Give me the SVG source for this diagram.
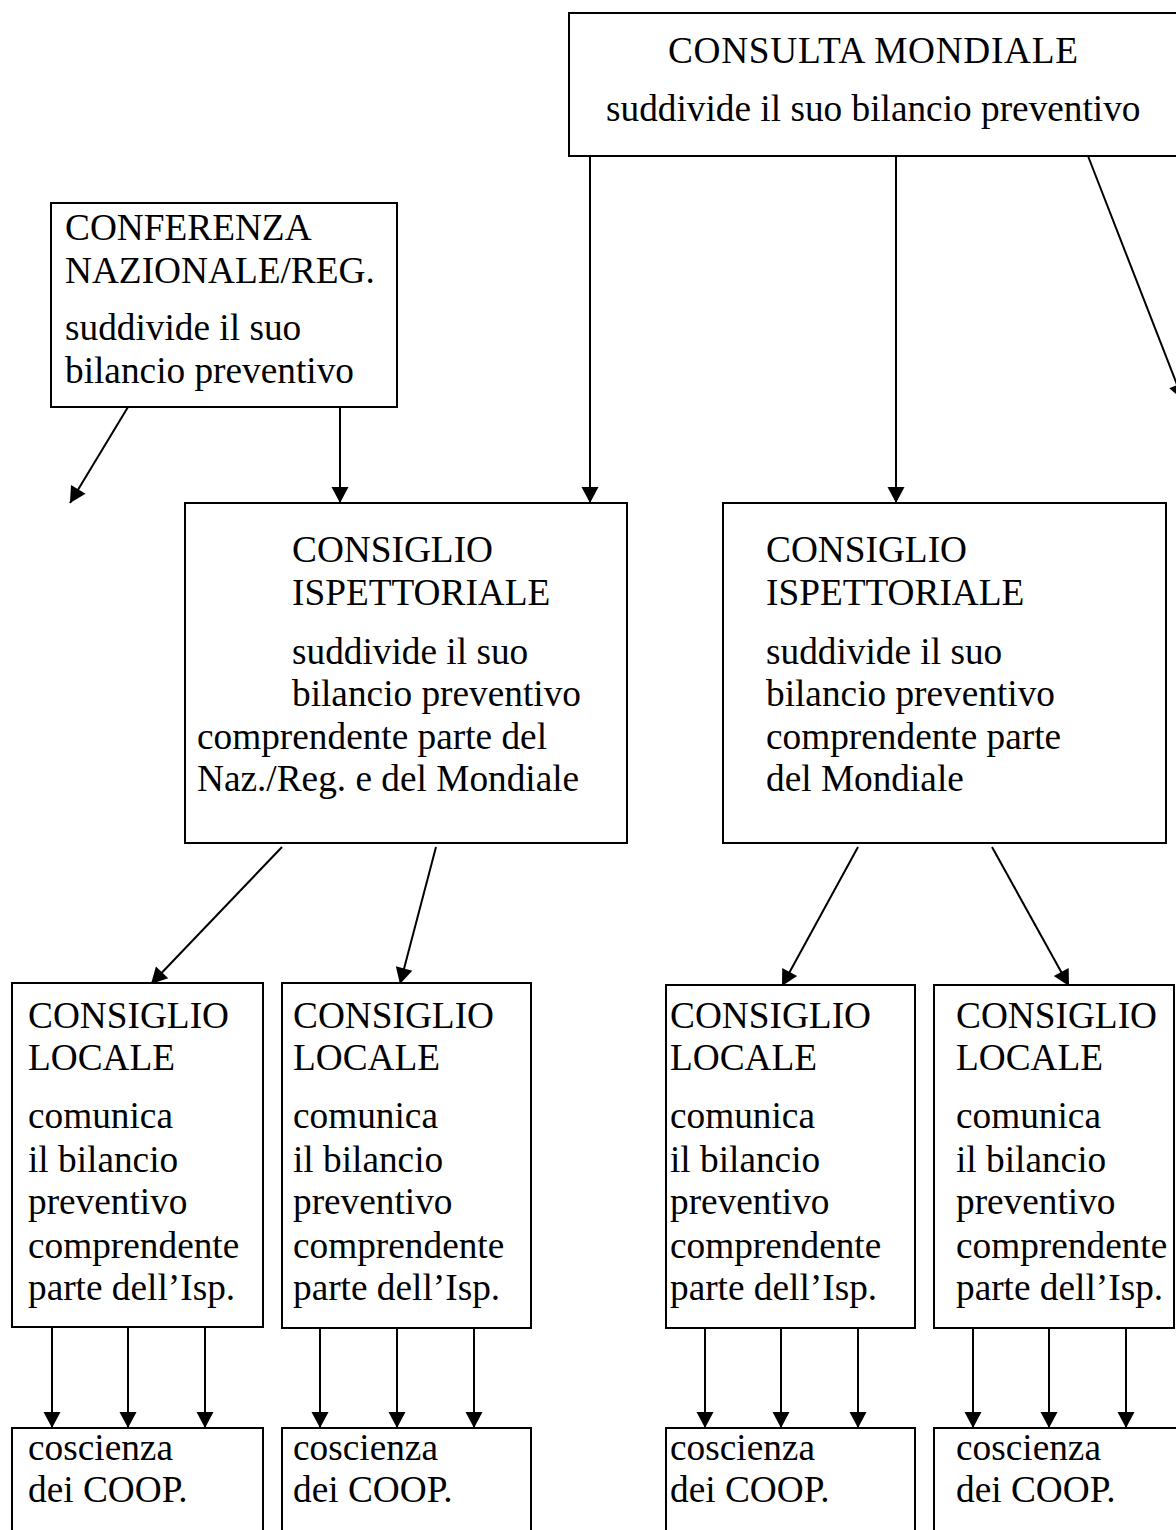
<svg xmlns="http://www.w3.org/2000/svg" width="1176" height="1530" viewBox="0 0 1176 1530">
<style>
.box{fill:#fff;stroke:#000;stroke-width:2}
.t{font-family:"Liberation Serif","Times New Roman",serif;font-size:37.3px;fill:#000}
.c{stroke:#000;stroke-width:2;fill:none;marker-end:url(#ah)}
</style>
<defs>
<marker id="ah" viewBox="0 0 16 17" markerWidth="16" markerHeight="17" refX="16" refY="8.5" orient="auto" markerUnits="userSpaceOnUse" overflow="visible">
<path d="M0,0 L16,8.5 L0,17 z" fill="#000"/>
</marker>
</defs>
<rect width="1176" height="1530" fill="#fff"/>
<g id="connectors">
<line class="c" x1="590" y1="156" x2="590" y2="503"/>
<line class="c" x1="896" y1="156" x2="896" y2="503"/>
<line class="c" x1="1088" y1="156" x2="1183" y2="400"/>
<line class="c" x1="128" y1="407" x2="70" y2="503"/>
<line class="c" x1="340" y1="407" x2="340" y2="503"/>
<line class="c" x1="282" y1="847" x2="151" y2="984"/>
<line class="c" x1="436" y1="847" x2="400" y2="984"/>
<line class="c" x1="858" y1="847" x2="782" y2="986"/>
<line class="c" x1="992" y1="847" x2="1069" y2="986"/>
<line class="c" x1="52" y1="1328" x2="52" y2="1428"/>
<line class="c" x1="128" y1="1328" x2="128" y2="1428"/>
<line class="c" x1="205" y1="1328" x2="205" y2="1428"/>
<line class="c" x1="320" y1="1328" x2="320" y2="1428"/>
<line class="c" x1="397" y1="1328" x2="397" y2="1428"/>
<line class="c" x1="474" y1="1328" x2="474" y2="1428"/>
<line class="c" x1="705" y1="1328" x2="705" y2="1428"/>
<line class="c" x1="781" y1="1328" x2="781" y2="1428"/>
<line class="c" x1="858" y1="1328" x2="858" y2="1428"/>
<line class="c" x1="973" y1="1328" x2="973" y2="1428"/>
<line class="c" x1="1049" y1="1328" x2="1049" y2="1428"/>
<line class="c" x1="1126" y1="1328" x2="1126" y2="1428"/>
</g>
<g id="consulta">
<rect class="box" x="569" y="13" width="640" height="143"/>
<text class="t" x="668" y="63" textLength="410">CONSULTA MONDIALE</text>
<text class="t" x="606" y="121">suddivide il suo bilancio preventivo</text>
</g>
<g id="conferenza">
<rect class="box" x="51" y="203" width="346" height="204"/>
<text class="t" x="65" y="240">CONFERENZA</text>
<text class="t" x="65" y="283">NAZIONALE/REG.</text>
<text class="t" x="65" y="340">suddivide il suo</text>
<text class="t" x="65" y="383">bilancio preventivo</text>
</g>
<g id="isp1">
<rect class="box" x="185" y="503" width="442" height="340"/>
<text class="t" x="292" y="562">CONSIGLIO</text>
<text class="t" x="292" y="605">ISPETTORIALE</text>
<text class="t" x="292" y="664">suddivide il suo</text>
<text class="t" x="292" y="706">bilancio preventivo</text>
<text class="t" x="197" y="749">comprendente parte del</text>
<text class="t" x="197" y="791">Naz./Reg. e del Mondiale</text>
</g>
<g id="isp2">
<rect class="box" x="723" y="503" width="443" height="340"/>
<text class="t" x="766" y="562">CONSIGLIO</text>
<text class="t" x="766" y="605">ISPETTORIALE</text>
<text class="t" x="766" y="664">suddivide il suo</text>
<text class="t" x="766" y="706">bilancio preventivo</text>
<text class="t" x="766" y="749">comprendente parte</text>
<text class="t" x="766" y="791">del Mondiale</text>
</g>
<g id="loc1">
<rect class="box" x="12" y="983" width="251" height="344"/>
<text class="t" x="28" y="1028">CONSIGLIO</text>
<text class="t" x="28" y="1070">LOCALE</text>
<text class="t" x="28" y="1128">comunica</text>
<text class="t" x="28" y="1172">il bilancio</text>
<text class="t" x="28" y="1214">preventivo</text>
<text class="t" x="28" y="1258">comprendente</text>
<text class="t" x="28" y="1300">parte dell’Isp.</text>
</g>
<g id="loc2">
<rect class="box" x="282" y="983" width="249" height="345"/>
<text class="t" x="293" y="1028">CONSIGLIO</text>
<text class="t" x="293" y="1070">LOCALE</text>
<text class="t" x="293" y="1128">comunica</text>
<text class="t" x="293" y="1172">il bilancio</text>
<text class="t" x="293" y="1214">preventivo</text>
<text class="t" x="293" y="1258">comprendente</text>
<text class="t" x="293" y="1300">parte dell’Isp.</text>
</g>
<g id="loc3">
<rect class="box" x="666" y="985" width="249" height="343"/>
<text class="t" x="670" y="1028">CONSIGLIO</text>
<text class="t" x="670" y="1070">LOCALE</text>
<text class="t" x="670" y="1128">comunica</text>
<text class="t" x="670" y="1172">il bilancio</text>
<text class="t" x="670" y="1214">preventivo</text>
<text class="t" x="670" y="1258">comprendente</text>
<text class="t" x="670" y="1300">parte dell’Isp.</text>
</g>
<g id="loc4">
<rect class="box" x="934" y="985" width="240" height="343"/>
<text class="t" x="956" y="1028">CONSIGLIO</text>
<text class="t" x="956" y="1070">LOCALE</text>
<text class="t" x="956" y="1128">comunica</text>
<text class="t" x="956" y="1172">il bilancio</text>
<text class="t" x="956" y="1214">preventivo</text>
<text class="t" x="956" y="1258">comprendente</text>
<text class="t" x="956" y="1300">parte dell’Isp.</text>
</g>
<g id="coop1">
<rect class="box" x="12" y="1428" width="251" height="120"/>
<text class="t" x="28" y="1460">coscienza</text>
<text class="t" x="28" y="1502">dei COOP.</text>
</g>
<g id="coop2">
<rect class="box" x="282" y="1428" width="249" height="120"/>
<text class="t" x="293" y="1460">coscienza</text>
<text class="t" x="293" y="1502">dei COOP.</text>
</g>
<g id="coop3">
<rect class="box" x="666" y="1428" width="249" height="120"/>
<text class="t" x="670" y="1460">coscienza</text>
<text class="t" x="670" y="1502">dei COOP.</text>
</g>
<g id="coop4">
<rect class="box" x="934" y="1428" width="260" height="120"/>
<text class="t" x="956" y="1460">coscienza</text>
<text class="t" x="956" y="1502">dei COOP.</text>
</g>
</svg>
